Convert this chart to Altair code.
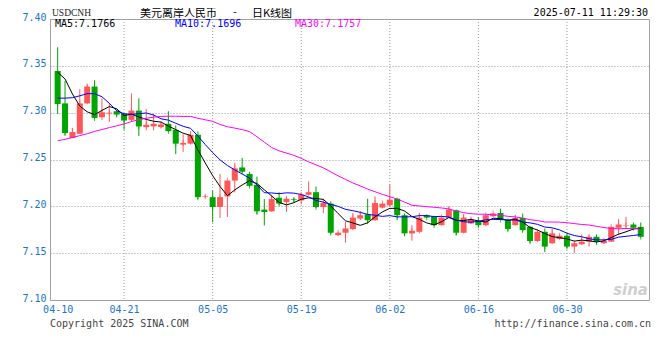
import altair as alt
import pandas as pd

# ---- data (USDCNH daily K, 2025-04-10 .. 2025-07-11, Mon-Sat sessions)
all_days = pd.date_range("2025-04-10", "2025-07-11", freq="D")
trade_days = [d for d in all_days if d.dayofweek != 6]
day_labels = [d.strftime("%m-%d") for d in trade_days]

opens = [7.3445, 7.3099, 7.2730, 7.2775, 7.3099, 7.3279, 7.2951, 7.2990, 7.3015, 7.2986,
         7.2923, 7.3022, 7.2846, 7.2853, 7.2846, 7.2881, 7.2817, 7.2659, 7.2669, 7.2764,
         7.2100, 7.2098, 7.1993, 7.2106, 7.2275, 7.2415, 7.2346, 7.2229, 7.1965, 7.1947,
         7.2092, 7.2045, 7.2075, 7.2063, 7.2124, 7.2151, 7.1993, 7.2029, 7.1693, 7.1718,
         7.1757, 7.1870, 7.1915, 7.1852, 7.1986, 7.2011, 7.2081, 7.1905, 7.1711, 7.1728,
         7.1905, 7.1894, 7.1799, 7.1880, 7.1958, 7.1718, 7.1817, 7.1845, 7.1799, 7.1894,
         7.1929, 7.1852, 7.1799, 7.1876, 7.1781, 7.1630, 7.1728, 7.1606, 7.1651, 7.1686,
         7.1570, 7.1595, 7.1623, 7.1675, 7.1606, 7.1623, 7.1771, 7.1795, 7.1806, 7.1781]
highs = [7.3699, 7.3339, 7.2838, 7.3251, 7.3303, 7.3346, 7.3152, 7.3099, 7.3033, 7.2993,
         7.3205, 7.3152, 7.3039, 7.2986, 7.2890, 7.3015, 7.2864, 7.2769, 7.2800, 7.2800,
         7.2120, 7.2169, 7.2346, 7.2275, 7.2465, 7.2518, 7.2370, 7.2317, 7.2077, 7.2124,
         7.2151, 7.2100, 7.2092, 7.2141, 7.2267, 7.2211, 7.2081, 7.2053, 7.1725, 7.1834,
         7.1929, 7.1950, 7.2081, 7.2106, 7.2040, 7.2233, 7.2092, 7.1923, 7.1799, 7.1929,
         7.1910, 7.1900, 7.1890, 7.2000, 7.1965, 7.1915, 7.1880, 7.1887, 7.1910, 7.1930,
         7.1975, 7.1870, 7.1905, 7.1923, 7.1792, 7.1740, 7.1764, 7.1764, 7.1695, 7.1711,
         7.1615, 7.1701, 7.1693, 7.1701, 7.1635, 7.1785, 7.1863, 7.1887, 7.1827, 7.1827]
lows = [7.2986, 7.2758, 7.2725, 7.2775, 7.3090, 7.2933, 7.2923, 7.2902, 7.2959, 7.2817,
        7.2902, 7.2750, 7.2811, 7.2811, 7.2830, 7.2793, 7.2557, 7.2581, 7.2660, 7.2077,
        7.2090, 7.1831, 7.1876, 7.1887, 7.2148, 7.2359, 7.2210, 7.1912, 7.1796, 7.1940,
        7.2011, 7.1940, 7.2045, 7.2021, 7.2116, 7.1982, 7.1929, 7.1704, 7.1685, 7.1612,
        7.1746, 7.1852, 7.1817, 7.1845, 7.1980, 7.1993, 7.1852, 7.1683, 7.1633, 7.1711,
        7.1875, 7.1789, 7.1795, 7.1875, 7.1693, 7.1710, 7.1810, 7.1781, 7.1790, 7.1890,
        7.1852, 7.1736, 7.1795, 7.1728, 7.1606, 7.1620, 7.1511, 7.1600, 7.1645, 7.1553,
        7.1500, 7.1590, 7.1570, 7.1595, 7.1600, 7.1620, 7.1693, 7.1764, 7.1765, 7.1665]
closes = [7.3092, 7.2782, 7.2793, 7.3099, 7.3279, 7.2944, 7.3004, 7.3000, 7.2980, 7.2916,
          7.3022, 7.2853, 7.2870, 7.2881, 7.2874, 7.2803, 7.2669, 7.2677, 7.2764, 7.2098,
          7.2106, 7.1993, 7.2098, 7.2275, 7.2405, 7.2370, 7.2219, 7.1947, 7.1940, 7.2077,
          7.2029, 7.2081, 7.2068, 7.2124, 7.2151, 7.1993, 7.2035, 7.1718, 7.1718, 7.1764,
          7.1880, 7.1905, 7.1852, 7.2035, 7.2029, 7.2071, 7.1905, 7.1711, 7.1739, 7.1880,
          7.1880, 7.1799, 7.1880, 7.1965, 7.1718, 7.1880, 7.1859, 7.1799, 7.1905, 7.1923,
          7.1859, 7.1757, 7.1876, 7.1746, 7.1630, 7.1728, 7.1570, 7.1711, 7.1686, 7.1570,
          7.1606, 7.1623, 7.1675, 7.1623, 7.1630, 7.1781, 7.1806, 7.1800, 7.1771, 7.1675]

ma5_lead = [7.343, 7.336, 7.320, 7.307]
ma10_lead = [7.3155, 7.3155, 7.3160, 7.3180, 7.3203, 7.3203, 7.3170, 7.3100, 7.3020]
ma30_lead = [7.2700, 7.2715, 7.2735, 7.2755, 7.2775, 7.2800, 7.2820, 7.2840, 7.2860, 7.2880,
             7.2905, 7.2925, 7.2940, 7.2952, 7.2960, 7.2962, 7.2962, 7.2960, 7.2960, 7.2940,
             7.2924, 7.2908, 7.2874, 7.2850, 7.2835, 7.2819, 7.2798, 7.2743, 7.2685]

tick_dates = ["04-10", "04-21", "05-05", "05-19", "06-02", "06-16", "06-30"]
y_ticks = [7.10, 7.15, 7.20, 7.25, 7.30, 7.35, 7.40]

title_cn = "美元离岸人民币"
title_k = "日K线图"
stamp = "2025-07-11 11:29:30"
legend_texts = ["MA5:7.1766", "MA10:7.1696", "MA30:7.1757"]

# ---- build tables
n = len(closes)
df = pd.DataFrame({
    "idx": list(range(n)), "date": day_labels[:n],
    "open": opens, "high": highs, "low": lows, "close": closes,
})
df["dir"] = ["up" if c >= o else "down" for o, c in zip(opens, closes)]

cs = pd.Series(closes)
def ma(win, lead):
    vals = cs.rolling(win).mean().tolist()
    vals[:len(lead)] = lead
    return vals

ma_tables = {
    name: pd.DataFrame({"idx": list(range(n)), "v": ma(w, lead)})
    for name, w, lead in [("MA5", 5, ma5_lead), ("MA10", 10, ma10_lead), ("MA30", 30, ma30_lead)]
}

tick_idx = [day_labels.index(t) for t in tick_dates]
grid_df = pd.DataFrame({"idx": tick_idx[1:]})

label_expr = ""
for t, i in zip(tick_dates, tick_idx):
    label_expr += f"datum.value == {i} ? '{t}' : "
label_expr += "''"

RED = "#FF5757"
GREEN = "#00A500"
AXC = "#1874CD"
GRID = "#9A9A9A"
MONO = "DejaVu Sans Mono"

xscale = alt.Scale(domain=[-0.36, 79.44], nice=False, zero=False)
yscale = alt.Scale(domain=[7.10, 7.40], nice=False, zero=False)
cscale = alt.Scale(domain=["up", "down"], range=[RED, GREEN])

x_axis = alt.Axis(values=tick_idx, labelExpr=label_expr, grid=False, ticks=False,
                  domain=False, labelColor=AXC, labelFont=MONO, labelFontSize=10,
                  labelPadding=4, labelFlush=False, title=None)
y_axis = alt.Axis(values=y_ticks, format=".2f",
                  grid=True, gridDash=[1, 2], gridColor=GRID, ticks=False,
                  domain=False, labelColor=AXC, labelFont=MONO, labelFontSize=10,
                  labelPadding=4, labelOffset=-2, title=None)

X = alt.X("idx:Q", scale=xscale, axis=x_axis)
def Y(field):
    return alt.Y(field, scale=yscale, axis=y_axis)

base = alt.Chart(df)
col = alt.Color("dir:N", scale=cscale, legend=None)

wicks = base.mark_rule(strokeWidth=1).encode(x=X, y=Y("low:Q"), y2="high:Q", color=col)
bodies = base.mark_bar(size=6).encode(x=X, y=Y("open:Q"), y2="close:Q", color=col)
flats = base.mark_tick(thickness=1, size=6).encode(x=X, y=Y("close:Q"), color=col)

vgrid = alt.Chart(grid_df).mark_rule(color=GRID, strokeDash=[1, 2], strokeWidth=1).encode(x=X)

ma_colors = {"MA5": "#000000", "MA10": "#0000FF", "MA30": "#FF00FF"}
ma_layers = [
    alt.Chart(t).mark_line(strokeWidth=1, color=ma_colors[name]).encode(x=X, y=Y("v:Q"))
    for name, t in ma_tables.items()
]

one = pd.DataFrame({"a": [0]})

def txt(s, x, y, color="#000000", size=10, font=MONO, align="left", weight="normal",
        style="normal"):
    return alt.Chart(one).mark_text(align=align, baseline="alphabetic", font=font,
                                    fontSize=size, color=color, fontWeight=weight,
                                    fontStyle=style).encode(
        x=alt.value(x), y=alt.value(y), text=alt.value(s))

texts = [
    txt("USDCNH", 2, -3, "#222222", 9.5, "Liberation Serif"),
    txt(title_cn, 90, -2.5, "#000000", 11, "Noto Sans CJK SC"),
    txt("-", 185, -3, "#000000", 11, "Noto Sans CJK SC", "center"),
    txt(title_k, 202, -2.5, "#000000", 11, "Noto Sans CJK SC"),
    txt(stamp, 598, -3, "#000000", 10, MONO, "right"),
    txt(legend_texts[0], 5, 8.3, "#000000"),
    txt(legend_texts[1], 125, 8.3, "#0000FF"),
    txt(legend_texts[2], 245, 8.3, "#FF00FF"),
    txt("Copyright 2025 SINA.COM", 0, 308, "#444444"),
    txt("http://finance.sina.com.cn", 601, 308, "#444444", 10, MONO, "right"),
    txt("sina", 598, 276, "#CFCFCF", 15, "DejaVu Sans", "right", "bold", "italic"),
]

chart = alt.layer(vgrid, wicks, bodies, flats, *ma_layers, *texts).properties(
    width=599, height=281,
    autosize=alt.AutoSizeParams(type="none"),
    padding={"left": 42, "top": 11, "right": 3, "bottom": 41},
    background="#FFFFFF",
).configure_view(stroke="#A0A0A0", strokeWidth=1)

chart.save("out.html", embed_options={"renderer": "svg", "actions": False})
